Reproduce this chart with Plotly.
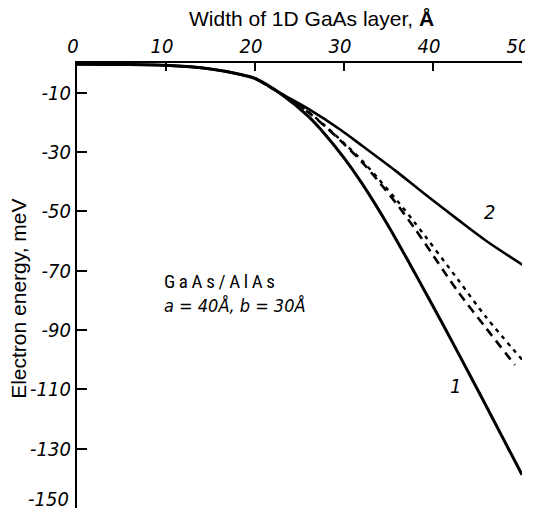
import plotly.graph_objects as go

# Width of 1D GaAs layer (Angstrom) and electron energy (meV)
x_curve1 = [0, 5, 10, 15, 18, 20, 23, 26, 28, 30, 32, 35, 38, 41, 44.2, 47, 50]
y_curve1 = [-0.4, -0.5, -0.8, -2.0, -3.6, -5.2, -10.6, -18.0, -24.5, -32.0, -40.5, -55.0, -71.0, -87.5, -105.5, -121.5, -138.8]

x_curve2 = [0, 5, 10, 15, 18, 20, 23, 26, 29.6, 32, 35.7, 39, 42.8, 46, 50.3]
y_curve2 = [-0.4, -0.5, -0.8, -2.0, -3.6, -5.2, -10.4, -15.5, -22.5, -27.8, -36.1, -44.0, -52.8, -60.0, -68.5]

x_short = [20, 23, 26, 28, 30, 32, 34, 36, 38, 42.8, 46, 50.1]
y_short = [-5.2, -10.5, -16.5, -21.5, -27.0, -32.8, -39.5, -46.5, -54.0, -73.0, -85.8, -100.3]

x_long = [20, 23, 26, 28, 30, 32, 34, 36, 38, 42.8, 46, 49.2]
y_long = [-5.2, -10.5, -16.6, -21.7, -27.3, -33.3, -40.3, -47.8, -56.0, -77.0, -89.5, -101.8]

x_ticks = [0, 10, 20, 30, 40, 50]
y_ticks = [-10, -30, -50, -70, -90, -110, -130, -150]

fig = go.Figure()

def add(xs, ys, dash, width):
    fig.add_trace(go.Scatter(x=xs, y=ys, mode="lines",
                             line=dict(color="black", width=width, dash=dash, shape="spline", smoothing=0.8),
                             showlegend=False, hoverinfo="skip", cliponaxis=False))

add(x_short, y_short, "4px,5px", 2.4)
add(x_long, y_long, "9px,6px", 2.6)
add(x_curve1, y_curve1, "solid", 3.0)
add(x_curve2, y_curve2, "solid", 2.6)

TICK_FAMILY = "DejaVu Sans Condensed, Roboto Condensed, Roboto, Arial"
tick_font = dict(family=TICK_FAMILY, size=20, color="black", style="italic")

# the page body adds an 8 px margin, so the figure is sized to fit the window without scrolling
fig.update_layout(
    width=525, height=500,
    margin=dict(l=69, r=11, t=55, b=0),
    paper_bgcolor="white", plot_bgcolor="white",
    font=dict(family="Liberation Sans, Arial", color="black"),
    xaxis=dict(side="top", range=[0, 50], tickvals=x_ticks, ticktext=[str(v) for v in x_ticks],
               ticks="inside", ticklen=8, tickwidth=1.5, tickcolor="black",
               showline=True, linecolor="black", linewidth=2.2, showgrid=False, zeroline=False,
               tickfont=tick_font, automargin=False, ticklabeloverflow="allow", ticklabelshift=-4),
    yaxis=dict(range=[-150, 0], tickvals=y_ticks,
               ticktext=["-" + str(-v) if v != -150 else "" for v in y_ticks],
               ticks="inside", ticklen=10, tickwidth=1.5, tickcolor="black",
               showline=True, linecolor="black", linewidth=2.2, showgrid=False, zeroline=False,
               tickfont=tick_font, automargin=False, ticklabeloverflow="allow"),
)

# axis titles
fig.add_annotation(xref="paper", yref="paper", x=0.526, y=1, yanchor="middle", yshift=45,
                   text="Width of 1D GaAs layer, <b>Å</b>", showarrow=False,
                   font=dict(size=21, family="Liberation Sans, Arial", color="black"))
fig.add_annotation(xref="paper", yref="paper", x=0, y=0.47, xanchor="center", xshift=-58,
                   text="Electron energy, meV", textangle=-90, showarrow=False,
                   font=dict(size=21, family="Liberation Sans, Arial", color="black"))
# bottom tick label (-150) sits just above its tick in the reference
fig.add_annotation(xref="paper", x=0, y=y_ticks[-1], xanchor="right", yanchor="middle", xshift=-6, yshift=9,
                   text="-" + str(-y_ticks[-1]), showarrow=False, font=tick_font)

thin = "\u2009"
fig.add_annotation(x=9.5, y=-73.7, text=thin.join("GaAs/AlAs"), showarrow=False, xanchor="left",
                   font=dict(size=19, family="Roboto Condensed, Roboto", color="black"))
fig.add_annotation(x=9.5, y=-81.8, text="<i>a = 40Å, b = 30Å</i>", showarrow=False, xanchor="left",
                   font=dict(size=18, family=TICK_FAMILY, color="black"))
fig.add_annotation(x=42.5, y=-108.8, text="<i>1</i>", showarrow=False,
                   font=dict(size=20, family=TICK_FAMILY, color="black"))
fig.add_annotation(x=46.4, y=-50.2, text="<i>2</i>", showarrow=False,
                   font=dict(size=20, family=TICK_FAMILY, color="black"))

fig.write_html("out.html")
